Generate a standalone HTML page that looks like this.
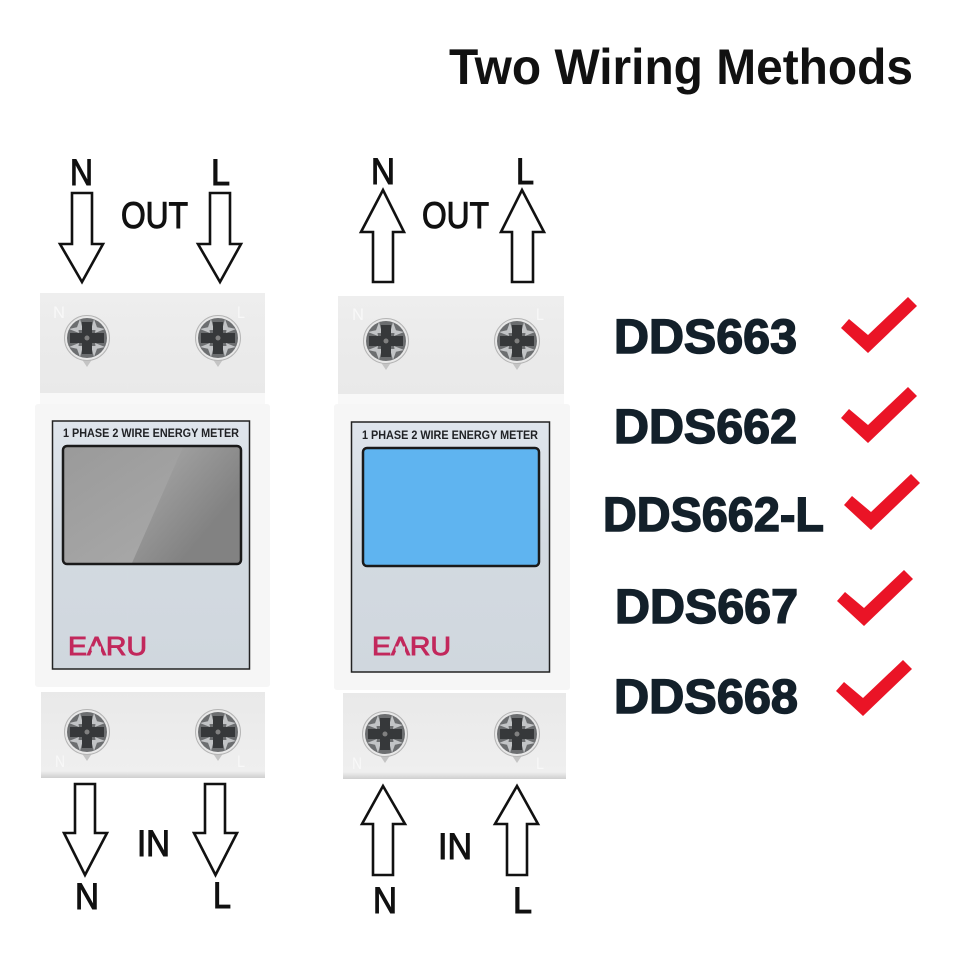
<!DOCTYPE html>
<html><head><meta charset="utf-8"><title>Two Wiring Methods</title>
<style>
html,body{margin:0;padding:0;background:#fff;width:960px;height:960px;overflow:hidden}
svg{display:block;filter:blur(.35px)}
text{font-family:"Liberation Sans",sans-serif}
.lb{font-size:37px;fill:#111;stroke:#111;stroke-width:1.1}
.dds{font-size:48px;font-weight:700;fill:#13202a;stroke:#13202a;stroke-width:1.5}
.ph{font-size:11.5px;font-weight:700;fill:#202225}
.em{font-size:17px;fill:#f8f8f8}
.ea{font-size:26px;fill:#c2285c;stroke:#c2285c;stroke-width:.9}
.ar{fill:#fff;stroke:#111;stroke-width:2.6;stroke-linejoin:miter}
.ck{fill:#ea1426}
</style></head><body>
<svg width="960" height="960" viewBox="0 0 960 960" xmlns="http://www.w3.org/2000/svg">
<defs>
<linearGradient id="term" x1="0" y1="0" x2="0" y2="1"><stop offset="0" stop-color="#eeeeee"/><stop offset=".5" stop-color="#ebebeb"/><stop offset="1" stop-color="#e9e9e9"/></linearGradient>
<linearGradient id="termb" x1="0" y1="0" x2="0" y2="1"><stop offset="0" stop-color="#e9e9e9"/><stop offset=".92" stop-color="#efefef"/><stop offset="1" stop-color="#cfcfcf"/></linearGradient>
<linearGradient id="pan" x1="0" y1="0" x2="0" y2="1"><stop offset="0" stop-color="#dfe5ec"/><stop offset=".5" stop-color="#d3dae1"/><stop offset="1" stop-color="#d0d7de"/></linearGradient>
<linearGradient id="lcdl" x1="0" y1="0" x2="1" y2="1"><stop offset="0" stop-color="#9a9a9a"/><stop offset="1" stop-color="#acacac"/></linearGradient>
<linearGradient id="lcdr" gradientUnits="userSpaceOnUse" x1="165" y1="460" x2="225" y2="510"><stop offset="0" stop-color="#a0a0a0"/><stop offset="1" stop-color="#828282"/></linearGradient>
<g id="screw">
<path d="M-6 20 L0 29 L6 20Z" fill="#c4c4c4"/>
<circle r="22.5" fill="#e8e8e8" stroke="#b5b5b5" stroke-width="1"/>
<circle r="20" fill="#6c6e70"/>
<path d="M-7 -19 L-11 -8 L-4 -8Z M7 -19 L11 -8 L4 -8Z M-18 -9 L-8 -5 L-9 -11Z M18 -9 L8 -5 L9 -11Z M-18 9 L-8 5 L-9 11Z M18 9 L8 5 L9 11Z M-7 19 L-11 8 L-4 8Z M7 19 L11 8 L4 8Z" fill="#c2c4c6"/>
<path d="M-5 -16 H5 V-5 H17 V5 H5 V16 H-5 V5 H-17 V-5 H-5Z" fill="#36383a"/>
<circle r="2.5" fill="#808080"/>
</g>
</defs>
<rect width="960" height="960" fill="#fff"/>

<text x="449" y="84" font-size="50" font-weight="700" fill="#111" textLength="464" lengthAdjust="spacingAndGlyphs">Two Wiring Methods</text>

<!-- top arrows left -->
<text class="lb" x="70" y="185" textLength="23" lengthAdjust="spacingAndGlyphs">N</text>
<text class="lb" x="211" y="185" textLength="19" lengthAdjust="spacingAndGlyphs">L</text>
<text class="lb" x="121" y="228" textLength="67" lengthAdjust="spacingAndGlyphs">OUT</text>
<path class="ar" d="M72 193H92V244H103L82 282L60 244H72Z"/>
<path class="ar" d="M210 193H230V244H241L220 282L198 244H210Z"/>

<!-- top arrows right -->
<text class="lb" x="371" y="184" textLength="24" lengthAdjust="spacingAndGlyphs">N</text>
<text class="lb" x="516" y="184" textLength="18" lengthAdjust="spacingAndGlyphs">L</text>
<text class="lb" x="422" y="228" textLength="67" lengthAdjust="spacingAndGlyphs">OUT</text>
<path class="ar" d="M373 282H393V232H404L383 190L361 232H373Z"/>
<path class="ar" d="M512 282H533V232H544L522 190L501 232H512Z"/>

<!-- device 1 -->
<rect x="40" y="293" width="225" height="101" fill="url(#term)"/>
<rect x="40" y="393" width="225" height="12" fill="#f8f8f8"/>
<rect x="35" y="404" width="235" height="283" rx="3" fill="#f6f6f6"/>
<rect x="41" y="692" width="224" height="86" fill="url(#termb)"/>
<rect x="52.500" y="421" width="197" height="248" fill="url(#pan)" stroke="#222" stroke-width="1.500"/>
<text class="ph" x="63" y="437" textLength="176" lengthAdjust="spacingAndGlyphs">1 PHASE 2 WIRE ENERGY METER</text>
<rect x="63" y="446" width="178" height="118" rx="4" fill="url(#lcdl)"/>
<path d="M183 447H240V563H132Z" fill="url(#lcdr)"/>
<rect x="63" y="446" width="178" height="118" rx="4" fill="none" stroke="#1a1a1a" stroke-width="2.500"/>
<text class="ea" x="68" y="655" textLength="79" lengthAdjust="spacingAndGlyphs">EARU</text>
<rect x="91.500" y="646.500" width="9.500" height="4.500" fill="#d1d8df"/>
<text class="em" x="53" y="318" textLength="12" lengthAdjust="spacingAndGlyphs">N</text>
<text class="em" x="237" y="318" textLength="8" lengthAdjust="spacingAndGlyphs">L</text>
<text class="em" x="55" y="767" textLength="10" lengthAdjust="spacingAndGlyphs">N</text>
<text class="em" x="237" y="767" textLength="8" lengthAdjust="spacingAndGlyphs">L</text>
<use href="#screw" x="87" y="338"/>
<use href="#screw" x="218" y="338"/>
<use href="#screw" x="87" y="732"/>
<use href="#screw" x="218" y="732"/>

<!-- device 2 -->
<rect x="338" y="296" width="226" height="99" fill="url(#term)"/>
<rect x="338" y="394" width="226" height="11" fill="#f8f8f8"/>
<rect x="334" y="404" width="236" height="286" rx="3" fill="#f6f6f6"/>
<rect x="343" y="693" width="223" height="86" fill="url(#termb)"/>
<rect x="351.500" y="422" width="198" height="250" fill="url(#pan)" stroke="#222" stroke-width="1.500"/>
<text class="ph" x="362" y="439" textLength="176" lengthAdjust="spacingAndGlyphs">1 PHASE 2 WIRE ENERGY METER</text>
<rect x="363" y="448" width="176" height="118" rx="4" fill="#5fb4f0" stroke="#1a1a1a" stroke-width="2.500"/>
<text class="ea" x="372" y="655" textLength="79" lengthAdjust="spacingAndGlyphs">EARU</text>
<rect x="395.500" y="646.500" width="9.500" height="4.500" fill="#d1d8df"/>
<text class="em" x="352" y="320" textLength="12" lengthAdjust="spacingAndGlyphs">N</text>
<text class="em" x="536" y="320" textLength="8" lengthAdjust="spacingAndGlyphs">L</text>
<text class="em" x="352" y="769" textLength="10" lengthAdjust="spacingAndGlyphs">N</text>
<text class="em" x="536" y="769" textLength="8" lengthAdjust="spacingAndGlyphs">L</text>
<use href="#screw" x="386" y="341"/>
<use href="#screw" x="517" y="341"/>
<use href="#screw" x="385" y="734"/>
<use href="#screw" x="517" y="734"/>

<!-- bottom arrows -->
<path class="ar" d="M75 784H95V833H107L85 875L64 833H75Z"/>
<path class="ar" d="M205 784H225V833H237L215.500 875L194 833H205Z"/>
<path class="ar" d="M373 875H393V824H405L383 786L362 824H373Z"/>
<path class="ar" d="M507 875H527V824H538L517 786L495 824H507Z"/>
<text class="lb" x="75" y="909" textLength="24" lengthAdjust="spacingAndGlyphs">N</text>
<text class="lb" x="213" y="908" textLength="18" lengthAdjust="spacingAndGlyphs">L</text>
<text class="lb" x="137" y="856" textLength="33" lengthAdjust="spacingAndGlyphs">IN</text>
<text class="lb" x="373" y="913" textLength="24" lengthAdjust="spacingAndGlyphs">N</text>
<text class="lb" x="513" y="913" textLength="19" lengthAdjust="spacingAndGlyphs">L</text>
<text class="lb" x="438" y="859" textLength="34" lengthAdjust="spacingAndGlyphs">IN</text>

<!-- model list -->
<text class="dds" x="614" y="353" textLength="183" lengthAdjust="spacingAndGlyphs">DDS663</text>
<text class="dds" x="614" y="443" textLength="183" lengthAdjust="spacingAndGlyphs">DDS662</text>
<text class="dds" x="603" y="531" textLength="221" lengthAdjust="spacingAndGlyphs">DDS662-L</text>
<text class="dds" x="615" y="623" textLength="183" lengthAdjust="spacingAndGlyphs">DDS667</text>
<text class="dds" x="614" y="713" textLength="184" lengthAdjust="spacingAndGlyphs">DDS668</text>
<path class="ck" d="M849 319L868 335L908 297L917 306L868 353L841 328Z"/>
<path class="ck" d="M849 409L868 425L908 387L917 396L868 443L841 418Z"/>
<path class="ck" d="M852 496L871 512L911 474L920 483L871 530L844 505Z"/>
<path class="ck" d="M845 592L864 608L904 570L913 579L864 626L837 601Z"/>
<path class="ck" d="M844 682L863 698L903 660L912 669L863 716L836 691Z"/>
</svg>
</body></html>
